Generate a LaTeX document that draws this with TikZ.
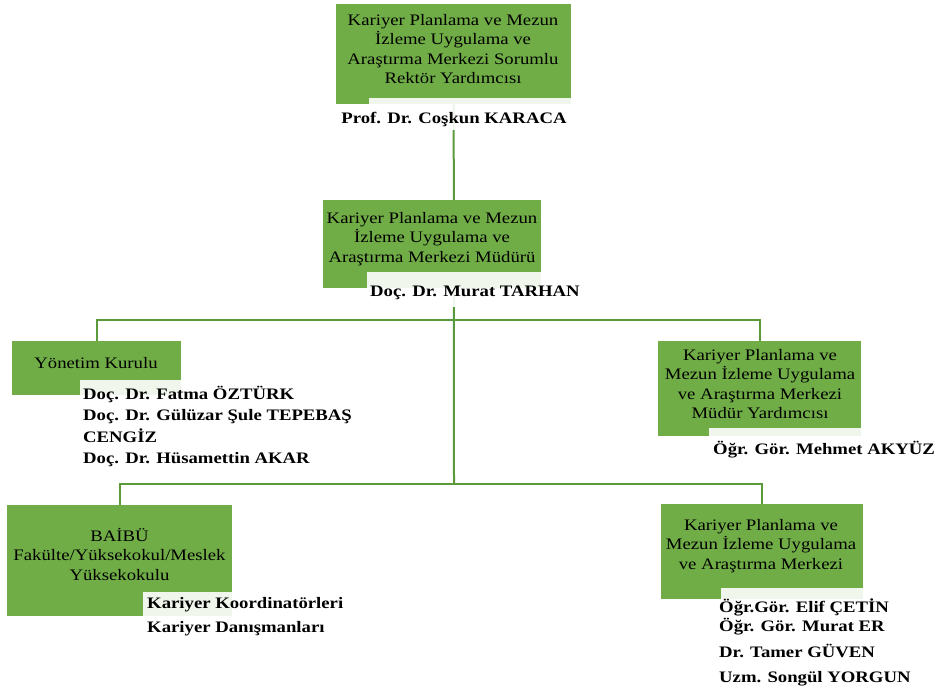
\documentclass[tikz,border=0pt]{standalone}
\usepackage{fontspec}
\setmainfont{Liberation Serif}[FakeStretch=1.17]
\usetikzlibrary{positioning,backgrounds}
\definecolor{boxgreen}{HTML}{70AD47}
\definecolor{linegreen}{HTML}{5B9A3A}
\tikzset{
  greenbox/.style={fill=boxgreen, inner sep=0pt, anchor=north west},
  paleback/.style={fill=white, fill opacity=0.9, inner sep=0pt, anchor=north west},
  boxtext/.style={align=center, inner sep=0pt, font=\fontsize{16}{19.5}\selectfont},
  nametext/.style={align=left, inner sep=0pt, anchor=base west, font=\fontsize{16}{21.5}\selectfont\bfseries},
  link/.style={draw=linegreen, line width=2pt}
}
\begin{document}
\begin{tikzpicture}[x=1pt,y=-1pt]
\useasboundingbox (0,0) rectangle (939,693);
% hubs of the tree
\coordinate (hub1) at (454,320);
\coordinate (hub2) at (454,484);

% boxes
\node[greenbox, minimum width=235pt, minimum height=100pt] (rektor) at (336,4) {};
\node[greenbox, minimum width=218pt, minimum height=88pt] (mudur) at (323,200) {};
\node[greenbox, minimum width=169pt, minimum height=54pt] (kurul) at (12,341) {};
\node[greenbox, minimum width=203pt, minimum height=95pt] (yard) at (658,341) {};
\node[greenbox, minimum width=225pt, minimum height=111pt] (birim) at (7,505) {};
\node[greenbox, minimum width=202pt, minimum height=95pt] (merkez) at (661,504) {};

% connectors
\begin{scope}[on background layer]
\draw[link] (rektor.south) -- (hub2);
\draw[link] (kurul.north) |- (hub1) -| (yard.north);
\draw[link] (birim.north) |- (hub2) -| (merkez.north);
\end{scope}

% pale backs under names
\node[paleback, minimum width=202pt, minimum height=32pt] (rektorBg) at (369,98) {};
\node[paleback, minimum width=174pt, minimum height=35pt] (mudurBg) at (367,272) {};
\node[paleback, minimum width=101pt, minimum height=15pt] (kurulBg) at (80,380) {};
\node[paleback, minimum width=152pt, minimum height=8pt] (yardBg) at (709,428) {};
\node[paleback, minimum width=89pt, minimum height=24pt] (birimBg) at (143,592) {};
\node[paleback, minimum width=142pt, minimum height=11pt] (merkezBg) at (721,588) {};

% box titles
\node[boxtext] (rektorT) at (453,49) {Kariyer Planlama ve Mezun\\İzleme Uygulama ve\\Araştırma Merkezi Sorumlu\\Rektör Yardımcısı};
\node[boxtext] (mudurT) at (432,239) {Kariyer Planlama ve Mezun\\İzleme Uygulama ve\\Araştırma Merkezi Müdürü};
\node[boxtext] (kurulT) at (96,363) {Yönetim Kurulu};
\node[boxtext] (yardT) at (760,384) {Kariyer Planlama ve\\Mezun İzleme Uygulama\\ve Araştırma Merkezi\\Müdür Yardımcısı};
\node[boxtext] (birimT) at (119.5,554) {BAİBÜ\\Fakülte/Yüksekokul/Meslek\\Yüksekokulu};
\node[boxtext] (merkezT) at (761,546) {Kariyer Planlama ve\\Mezun İzleme Uygulama\\ve Araştırma Merkezi};

% names (base = last line)
\node[nametext, anchor=base] (rektorN) at (454,123.5) {Prof. Dr. Coşkun KARACA};
\node[nametext] (mudurN) at (370,296.5) {Doç. Dr. Murat TARHAN};
\node[nametext] (kurulN) at (83,463.5) {Doç. Dr. Fatma ÖZTÜRK\\Doç. Dr. Gülüzar Şule TEPEBAŞ\\CENGİZ\\Doç. Dr. Hüsamettin AKAR};
\node[nametext] (yardN) at (713,454.5) {Öğr. Gör. Mehmet AKYÜZ};
\node[nametext] (birimN) at (147,632.5) {Kariyer Koordinatörleri\\[2.5pt]Kariyer Danışmanları};
\node[nametext] (merkezN) at (719,682.5) {Öğr.Gör. Elif ÇETİN\\[-2.5pt]Öğr. Gör. Murat ER\\[4.5pt]Dr. Tamer GÜVEN\\[3.5pt]Uzm. Songül YORGUN};
\end{tikzpicture}
\end{document}
